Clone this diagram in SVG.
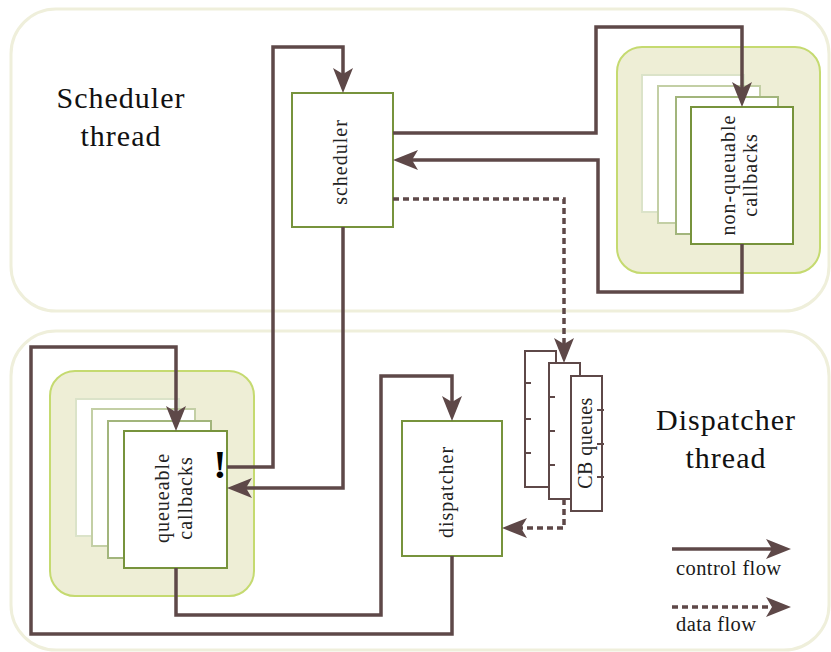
<svg xmlns="http://www.w3.org/2000/svg" width="831" height="652" viewBox="0 0 831 652">
<defs>
<style>
.thread{fill:#ffffff;stroke:#efefdb;stroke-width:3}
.group{fill:#eeeed6;stroke:#c5da70;stroke-width:2}
.box{fill:#ffffff;stroke:#77933c;stroke-width:2}
.c1{fill:#ffffff;stroke:#dbe3c9;stroke-width:2}
.c2{fill:#ffffff;stroke:#c3cfa5;stroke-width:2}
.c3{fill:#ffffff;stroke:#a2b57c;stroke-width:2}
.q{fill:#ffffff;stroke:#5e4848;stroke-width:2}
.tick{stroke:#5e4848;stroke-width:2}
.ctl{fill:none;stroke:#5e4848;stroke-width:3.5;marker-end:url(#ah)}
.dat{fill:none;stroke:#5e4848;stroke-width:3.5;stroke-dasharray:6 4;marker-end:url(#ah)}
.big{font-family:"Liberation Serif",serif;font-size:30px;letter-spacing:1px;fill:#111111;text-anchor:middle}
.lbl{font-family:"Liberation Serif",serif;font-size:20px;letter-spacing:1px;fill:#222222;text-anchor:middle}
.leg{font-family:"Liberation Serif",serif;font-size:20.5px;letter-spacing:0.4px;fill:#1a1a1a}
</style>
<marker id="ah" markerUnits="userSpaceOnUse" viewBox="-26 -11 27 22" markerWidth="27" markerHeight="22" refX="-18" refY="0" orient="auto">
<path d="M0,0 L-25,-10 L-19,0 L-25,10 Z" fill="#5e4848"/>
</marker>
</defs>

<rect class="thread" x="11" y="9" width="818" height="302" rx="45"/>
<rect class="thread" x="11" y="331" width="818" height="319" rx="45"/>

<text class="big" x="121" y="108">Scheduler</text>
<text class="big" x="121" y="146">thread</text>
<text class="big" x="726" y="430">Dispatcher</text>
<text class="big" x="726" y="468">thread</text>

<g id="scheduler">
<rect class="box" x="292" y="93" width="101" height="134"/>
<text class="lbl" transform="translate(347,162) rotate(-90)">scheduler</text>
</g>

<g id="non-queueable-callbacks">
<rect class="group" x="617" y="47" width="203" height="226" rx="25"/>
<rect class="c1" x="642" y="75" width="102" height="137"/>
<rect class="c2" x="658" y="86" width="102" height="137"/>
<rect class="c3" x="676" y="97" width="102" height="137"/>
<rect class="box" x="691" y="107" width="102" height="137"/>
<text class="lbl" transform="translate(735,175) rotate(-90)">non-queuable</text>
<text class="lbl" transform="translate(757,175) rotate(-90)">callbacks</text>
</g>

<g id="queueable-callbacks">
<rect class="group" x="50" y="371" width="204" height="225" rx="25"/>
<rect class="c1" x="76" y="399" width="103" height="137"/>
<rect class="c2" x="92" y="409" width="103" height="137"/>
<rect class="c3" x="108" y="421" width="103" height="137"/>
<rect class="box" x="124" y="431" width="103" height="137"/>
<text class="lbl" transform="translate(169,498) rotate(-90)">queueable</text>
<text class="lbl" transform="translate(192,498) rotate(-90)">callbacks</text>
<text x="220" y="478" style="font-family:'Liberation Serif',serif;font-size:40px;font-weight:bold;fill:#000000;text-anchor:middle">!</text>
</g>

<g id="dispatcher">
<rect class="box" x="402" y="421" width="100" height="135"/>
<text class="lbl" transform="translate(453,492) rotate(-90)">dispatcher</text>
</g>

<g id="cb-queues">
<rect class="q" x="525" y="351" width="31" height="136"/>
<line class="tick" x1="525" y1="383" x2="531" y2="383"/>
<line class="tick" x1="525" y1="419" x2="531" y2="419"/>
<line class="tick" x1="525" y1="453" x2="531" y2="453"/>
<rect class="q" x="549" y="363" width="31" height="136"/>
<line class="tick" x1="549" y1="397" x2="555" y2="397"/>
<line class="tick" x1="549" y1="431" x2="555" y2="431"/>
<line class="tick" x1="549" y1="465" x2="555" y2="465"/>
<rect class="q" x="571" y="376" width="31" height="135"/>
<line class="tick" x1="597" y1="410" x2="604" y2="410"/>
<line class="tick" x1="597" y1="444" x2="604" y2="444"/>
<line class="tick" x1="597" y1="477" x2="604" y2="477"/>
<text class="lbl" transform="translate(592,443) rotate(-90)" style="letter-spacing:0.5px">CB queues</text>
</g>

<g id="connectors">
<path class="ctl" d="M227,467 H273 V47 H343 V75"/>
<path class="ctl" d="M343,227 V488 H245"/>
<path class="ctl" d="M393,133 H596 V27 H742 V89"/>
<path class="ctl" d="M742,244 V292 H598 V160 H411"/>
<path class="dat" d="M393,199 H564 V345"/>
<path class="dat" d="M564,499 V528 H520"/>
<path class="ctl" d="M176,568 V615 H381 V376 H452 V403"/>
<path class="ctl" d="M452,556 V634 H31 V347 H176 V413"/>
</g>

<g id="legend">
<path class="ctl" d="M672,549 H773"/>
<text class="leg" x="676" y="575">control flow</text>
<path class="dat" d="M672,607 H773"/>
<text class="leg" x="676" y="631">data flow</text>
</g>
</svg>
